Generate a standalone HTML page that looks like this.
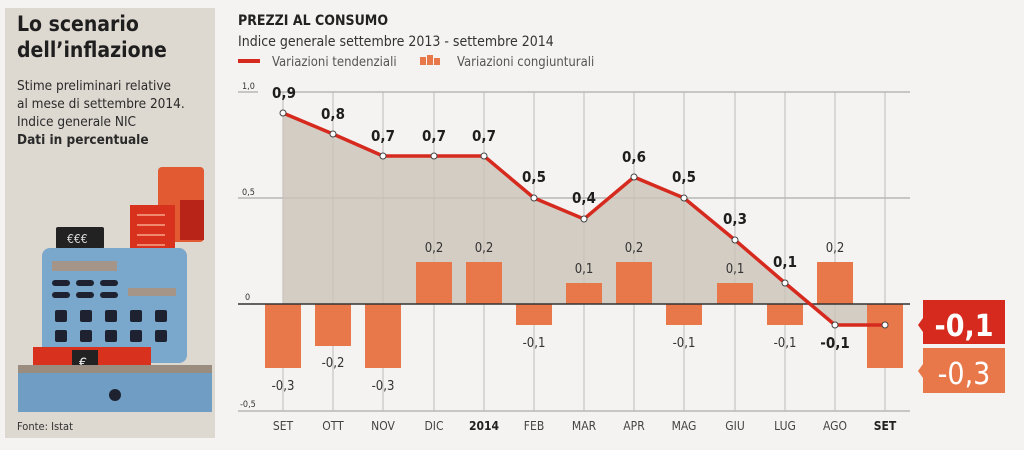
<!DOCTYPE html>
<html><head><meta charset="utf-8"><style>
body{margin:0;background:#f4f3f1;width:1024px;height:445px;overflow:hidden;font-family:"Liberation Sans",sans-serif}
</style></head><body>
<svg width="1024" height="445" viewBox="0 0 1024 445" xmlns="http://www.w3.org/2000/svg" font-family="Liberation Sans Narrow, DejaVu Sans Condensed, Liberation Sans, sans-serif">
<rect width="1024" height="445" fill="#f4f3f1"/>
<!-- left panel -->
<rect x="5" y="8" width="210" height="430" fill="#ddd8d0"/>
<text x="17" y="31" font-size="21" font-weight="bold" fill="#1e1e1e">Lo scenario</text>
<text x="17" y="57" font-size="21" font-weight="bold" fill="#1e1e1e">dell’inflazione</text>
<g font-size="13.5" fill="#2a2a2a">
<text x="17" y="90">Stime preliminari relative</text>
<text x="17" y="108">al mese di settembre 2014.</text>
<text x="17" y="126">Indice generale NIC</text>
<text x="17" y="144" font-weight="bold">Dati in percentuale</text>
</g>
<text x="17" y="430" font-size="11" fill="#333">Fonte: Istat</text>
<!-- cash register -->
<rect x="158" y="167" width="46" height="75" rx="4" fill="#e25a32"/>
<rect x="180" y="200" width="24" height="40" fill="#b82418"/>
<rect x="130" y="205" width="45" height="70" fill="#d8321f"/>
<g stroke="#f08870" stroke-width="2"><line x1="137" y1="215" x2="165" y2="215"/><line x1="137" y1="225" x2="165" y2="225"/><line x1="137" y1="235" x2="165" y2="235"/><line x1="137" y1="245" x2="165" y2="245"/><line x1="137" y1="255" x2="165" y2="255"/><line x1="137" y1="265" x2="165" y2="265"/></g>
<rect x="56" y="227" width="48" height="22" rx="2" fill="#222"/>
<text x="67" y="243" font-size="12" fill="#ddd">€€€</text>
<rect x="42" y="248" width="145" height="115" rx="8" fill="#7aa7cc"/>
<rect x="52" y="261" width="65" height="10" fill="#a59588"/>
<rect x="128" y="288" width="48" height="8" fill="#a59588"/>
<g fill="#1e2230"><rect x="52" y="280" width="18" height="6" rx="3"/><rect x="76" y="280" width="18" height="6" rx="3"/><rect x="100" y="280" width="18" height="6" rx="3"/><rect x="52" y="292" width="18" height="6" rx="3"/><rect x="76" y="292" width="18" height="6" rx="3"/><rect x="100" y="292" width="18" height="6" rx="3"/></g>
<g fill="#1e2230"><rect x="55" y="310" width="12" height="12" rx="2"/><rect x="80" y="310" width="12" height="12" rx="2"/><rect x="105" y="310" width="12" height="12" rx="2"/><rect x="130" y="310" width="12" height="12" rx="2"/><rect x="155" y="310" width="12" height="12" rx="2"/><rect x="55" y="330" width="12" height="12" rx="2"/><rect x="80" y="330" width="12" height="12" rx="2"/><rect x="105" y="330" width="12" height="12" rx="2"/><rect x="130" y="330" width="12" height="12" rx="2"/><rect x="155" y="330" width="12" height="12" rx="2"/></g>
<rect x="33" y="347" width="118" height="30" fill="#d8321f"/>
<rect x="72" y="350" width="26" height="24" fill="#222"/>
<text x="79" y="368" font-size="14" fill="#eee">€</text>
<rect x="18" y="370" width="194" height="42" fill="#6f9dc4"/>
<rect x="18" y="365" width="194" height="8" fill="#9b8c80"/>
<circle cx="115" cy="395" r="6" fill="#1e2230"/>
<!-- title -->
<text x="238" y="25" font-size="14" font-weight="bold" fill="#222">PREZZI AL CONSUMO</text>
<text x="238" y="46" font-size="14" fill="#333">Indice generale settembre 2013 - settembre 2014</text>
<rect x="238" y="59" width="22" height="4" fill="#d62a1e"/>
<text x="272" y="66" font-size="13" fill="#555">Variazioni tendenziali</text>
<rect x="420" y="57" width="6" height="8" fill="#e8784a"/><rect x="427" y="55" width="6" height="10" fill="#e8784a"/><rect x="434" y="58" width="6" height="7" fill="#e8784a"/>
<text x="457" y="66" font-size="13" fill="#555">Variazioni congiunturali</text>
<!-- grid -->
<g stroke="#999" stroke-width="1">
<line x1="238" y1="92" x2="910" y2="92"/><line x1="238" y1="198" x2="910" y2="198"/><line x1="238" y1="411" x2="910" y2="411"/>
</g>
<g stroke="#bbb" stroke-width="1">
<line x1="283" y1="92" x2="283" y2="411"/><line x1="333" y1="92" x2="333" y2="411"/><line x1="383" y1="92" x2="383" y2="411"/><line x1="434" y1="92" x2="434" y2="411"/><line x1="484" y1="92" x2="484" y2="411"/><line x1="534" y1="92" x2="534" y2="411"/><line x1="584" y1="92" x2="584" y2="411"/><line x1="634" y1="92" x2="634" y2="411"/><line x1="684" y1="92" x2="684" y2="411"/><line x1="735" y1="92" x2="735" y2="411"/><line x1="785" y1="92" x2="785" y2="411"/><line x1="835" y1="92" x2="835" y2="411"/><line x1="885" y1="92" x2="885" y2="411"/>
</g>
<rect x="258" y="82" width="22" height="12" fill="#f4f3f1"/>
<g font-size="9" fill="#333"><text x="242" y="89">1,0</text><text x="242" y="195">0,5</text><text x="245" y="300">0</text><text x="240" y="407">-0,5</text></g>
<!-- area -->
<polygon points="283,304 283,113 333,134 383,156 434,156 484,156 534,198 584,219 634,177 684,198 735,240 785,283 810,304" fill="#ccc3b9" opacity="0.8"/>
<polygon points="810,304 835,325 885,325 885,304" fill="#ccc3b9" opacity="0.8"/>
<!-- bars -->
<g fill="#e8784a">
<rect x="265" y="304" width="36" height="64"/><rect x="315" y="304" width="36" height="42"/><rect x="365" y="304" width="36" height="64"/><rect x="416" y="262" width="36" height="42"/><rect x="466" y="262" width="36" height="42"/><rect x="516" y="304" width="36" height="21"/><rect x="566" y="283" width="36" height="21"/><rect x="616" y="262" width="36" height="42"/><rect x="666" y="304" width="36" height="21"/><rect x="717" y="283" width="36" height="21"/><rect x="767" y="304" width="36" height="21"/><rect x="817" y="262" width="36" height="42"/><rect x="867" y="304" width="36" height="64"/>
</g>
<line x1="238" y1="304" x2="910" y2="304" stroke="#333" stroke-width="1.5"/>
<!-- line -->
<polyline points="283,113 333,134 383,156 434,156 484,156 534,198 584,219 634,177 684,198 735,240 785,283 835,325 885,325" fill="none" stroke="#d62a1e" stroke-width="3.5"/>
<g fill="#fff" stroke="#444" stroke-width="1">
<circle cx="283" cy="113" r="3"/><circle cx="333" cy="134" r="3"/><circle cx="383" cy="156" r="3"/><circle cx="434" cy="156" r="3"/><circle cx="484" cy="156" r="3"/><circle cx="534" cy="198" r="3"/><circle cx="584" cy="219" r="3"/><circle cx="634" cy="177" r="3"/><circle cx="684" cy="198" r="3"/><circle cx="735" cy="240" r="3"/><circle cx="785" cy="283" r="3"/><circle cx="835" cy="325" r="3"/><circle cx="885" cy="325" r="3"/>
</g>
<!-- line labels -->
<g font-size="15" font-weight="bold" fill="#1e1e1e" text-anchor="middle">
<text x="284" y="98">0,9</text><text x="333" y="119">0,8</text><text x="383" y="141">0,7</text><text x="434" y="141">0,7</text><text x="484" y="141">0,7</text><text x="534" y="182">0,5</text><text x="584" y="203">0,4</text><text x="634" y="162">0,6</text><text x="684" y="182">0,5</text><text x="735" y="224">0,3</text><text x="785" y="267">0,1</text><text x="835" y="348">-0,1</text>
</g>
<!-- bar labels -->
<g font-size="13" fill="#333" text-anchor="middle">
<text x="283" y="390">-0,3</text><text x="333" y="367">-0,2</text><text x="383" y="390">-0,3</text><text x="434" y="252">0,2</text><text x="484" y="252">0,2</text><text x="534" y="347">-0,1</text><text x="584" y="273">0,1</text><text x="634" y="252">0,2</text><text x="684" y="347">-0,1</text><text x="735" y="273">0,1</text><text x="785" y="347">-0,1</text><text x="835" y="252">0,2</text>
</g>
<!-- x labels -->
<g font-size="12" fill="#444" text-anchor="middle">
<text x="283" y="430">SET</text><text x="333" y="430">OTT</text><text x="383" y="430">NOV</text><text x="434" y="430">DIC</text><text x="484" y="430" font-weight="bold" fill="#222">2014</text><text x="534" y="430">FEB</text><text x="584" y="430">MAR</text><text x="634" y="430">APR</text><text x="684" y="430">MAG</text><text x="735" y="430">GIU</text><text x="785" y="430">LUG</text><text x="835" y="430">AGO</text><text x="885" y="430" font-weight="bold" fill="#222">SET</text>
</g>
<!-- badges -->
<rect x="923" y="300" width="82" height="44" fill="#d62a1e"/>
<polygon points="923,318 918,325 923,332" fill="#d62a1e"/>
<text x="964" y="336" font-size="30" font-weight="bold" fill="#fff" text-anchor="middle">-0,1</text>
<rect x="923" y="348" width="82" height="45" fill="#e8784a"/>
<polygon points="923,364 918,371 923,378" fill="#e8784a"/>
<text x="964" y="384" font-size="30" fill="#fff" text-anchor="middle">-0,3</text>
</svg>
</body></html>
